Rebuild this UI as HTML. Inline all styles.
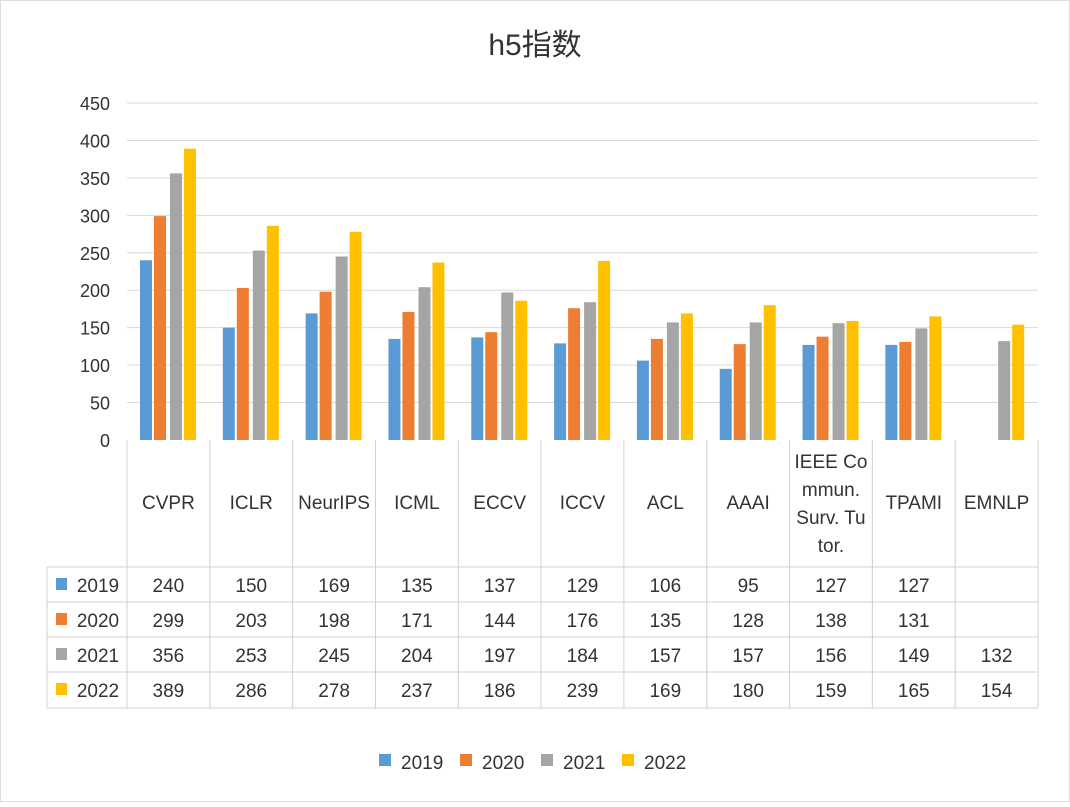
<!DOCTYPE html>
<html><head><meta charset="utf-8"><style>
body{margin:0;background:#fff}
svg text{font-family:"Liberation Sans","Noto Sans CJK SC",sans-serif;fill:#333}
</style></head><body>
<svg width="1070" height="802" xmlns="http://www.w3.org/2000/svg">
<rect x="0.5" y="0.5" width="1069" height="801" fill="#fff" stroke="#ddd"/>
<text x="535" y="55" font-size="30" text-anchor="middle" fill="#444">h5指数</text>
<g id="grid" stroke="#d9d9d9" stroke-width="1"></g>
<g id="ylab" font-size="18" text-anchor="end"></g>
<g id="bars"></g>
<g id="table" stroke="#d0d0d0" stroke-width="1" fill="none"></g>
<g id="ttext" font-size="19" text-anchor="middle"></g>
<g font-size="19">
<rect x="379" y="754" width="12" height="12" fill="#5b9bd5"/><text x="401" y="769">2019</text>
<rect x="460" y="754" width="12" height="12" fill="#ed7d31"/><text x="482" y="769">2020</text>
<rect x="541" y="754" width="12" height="12" fill="#a5a5a5"/><text x="563" y="769">2021</text>
<rect x="622" y="754" width="12" height="12" fill="#ffc000"/><text x="644" y="769">2022</text>
</g>
</svg>
<script>
const ns="http://www.w3.org/2000/svg";
function el(p,t,a,txt){const e=document.createElementNS(ns,t);for(const k in a)e.setAttribute(k,a[k]);if(txt!==undefined)e.textContent=txt;document.getElementById(p).appendChild(e);return e;}
const y0=440,sc=337/450,x0=127,x1=1038,n=11,w=(x1-x0)/n;
for(let v=0;v<=450;v+=50){const y=y0-v*sc;if(v>0)el("grid","line",{x1:x0,x2:x1,y1:y,y2:y});el("ylab","text",{x:110,y:y+7},v);}
const cats=["CVPR","ICLR","NeurIPS","ICML","ECCV","ICCV","ACL","AAAI","","TPAMI","EMNLP"];
const data=[[240,150,169,135,137,129,106,95,127,127,null],[299,203,198,171,144,176,135,128,138,131,null],[356,253,245,204,197,184,157,157,156,149,132],[389,286,278,237,186,239,169,180,159,165,154]];
const cols=["#5b9bd5","#ed7d31","#a5a5a5","#ffc000"];
const offs=[13,27,43,57];
for(let s=0;s<4;s++)for(let i=0;i<n;i++){const v=data[s][i];if(v==null)continue;const h=v*sc;el("bars","rect",{x:x0+i*w+offs[s],y:y0-h,width:12,height:h,fill:cols[s]});}
// table
const rows=[440,567,602,637,672,708];
for(let i=0;i<=n;i++){const x=x0+i*w;el("table","line",{x1:x,x2:x,y1:440,y2:708});}
el("table","line",{x1:47,x2:47,y1:567,y2:708});
for(let r=1;r<rows.length;r++)el("table","line",{x1:47,x2:x1,y1:rows[r],y2:rows[r]});
for(let i=0;i<n;i++){const cx=x0+i*w+w/2;if(cats[i])el("ttext","text",{x:cx,y:509},cats[i]);}
const cx8=x0+8*w+w/2;
el("ttext","text",{x:cx8,y:468},"IEEE Co");el("ttext","text",{x:cx8,y:496},"mmun.");el("ttext","text",{x:cx8,y:524},"Surv. Tu");el("ttext","text",{x:cx8,y:552},"tor.");
const yrs=["2019","2020","2021","2022"];
for(let s=0;s<4;s++){const ty=rows[s+1]+25;
el("ttext","rect",{x:56,y:rows[s+1]+11,width:11,height:12,fill:cols[s]});
el("ttext","text",{x:98,y:ty},yrs[s]);
for(let i=0;i<n;i++){const v=data[s][i];if(v==null)continue;el("ttext","text",{x:x0+i*w+w/2,y:ty},v);}}
</script>
</body></html>
